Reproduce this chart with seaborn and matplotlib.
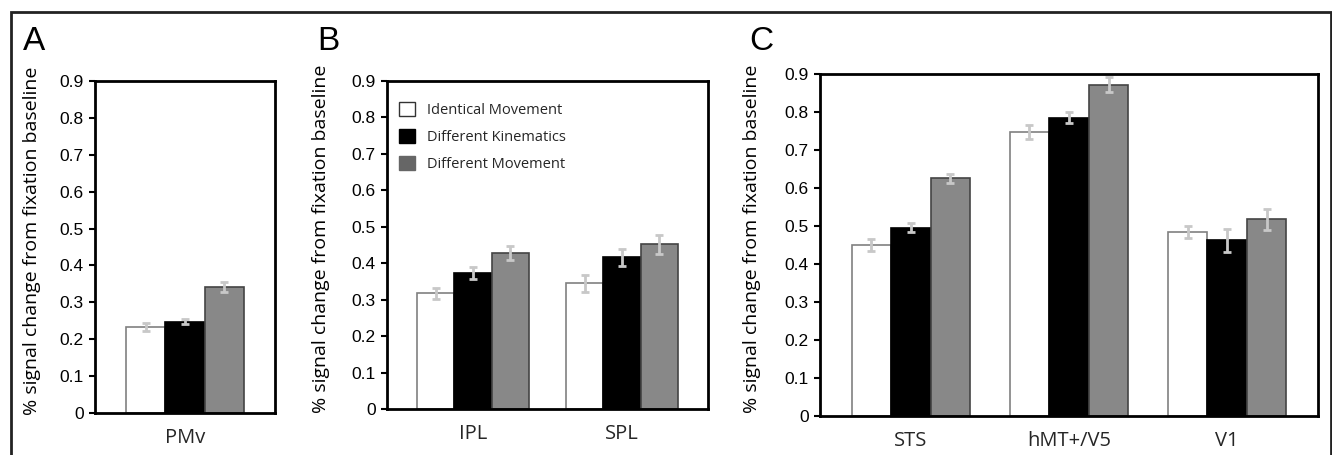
import matplotlib
matplotlib.use("Agg")
import matplotlib.pyplot as plt
import seaborn as sns
import pandas as pd
from matplotlib.patches import Rectangle, Patch

sns.set_theme(style="white")
plt.rcParams['font.family'] = ['Liberation Sans', 'DejaVu Sans']

conditions = ["Identical Movement", "Different Kinematics", "Different Movement"]

regions_a = ["PMv"]
vals_a = {"Identical Movement": [0.233], "Different Kinematics": [0.247], "Different Movement": [0.341]}
errs_a = {"Identical Movement": [0.012], "Different Kinematics": [0.007], "Different Movement": [0.013]}

regions_b = ["IPL", "SPL"]
vals_b = {"Identical Movement": [0.317, 0.345], "Different Kinematics": [0.374, 0.416], "Different Movement": [0.428, 0.452]}
errs_b = {"Identical Movement": [0.016, 0.023], "Different Kinematics": [0.017, 0.023], "Different Movement": [0.019, 0.026]}

regions_c = ["STS", "hMT+/V5", "V1"]
vals_c = {"Identical Movement": [0.450, 0.747, 0.484], "Different Kinematics": [0.495, 0.785, 0.462], "Different Movement": [0.626, 0.872, 0.518]}
errs_c = {"Identical Movement": [0.015, 0.019, 0.016], "Different Kinematics": [0.012, 0.014, 0.031], "Different Movement": [0.012, 0.020, 0.028]}

yticks = [0, 0.1, 0.2, 0.3, 0.4, 0.5, 0.6, 0.7, 0.8, 0.9]
ytick_labels = ["0", "0.1", "0.2", "0.3", "0.4", "0.5", "0.6", "0.7", "0.8", "0.9"]

face_colors = {"Identical Movement": "#ffffff", "Different Kinematics": "#000000", "Different Movement": "#888888"}
edge_colors = {"Identical Movement": "#808080", "Different Kinematics": "#000000", "Different Movement": "#444444"}

ylabel = "% signal change from fixation baseline"
label_font = "Open Sans"

W, H = 1332, 455
fig = plt.figure(figsize=(W / 100, H / 100), dpi=100)


def make_df(regions, vals):
    rows = []
    for c in conditions:
        for r, v in zip(regions, vals[c]):
            rows.append({"region": r, "condition": c, "value": v})
    return pd.DataFrame(rows)


def panel(rect, regions, vals, errs, letter, letter_xy, ylabel_x):
    l, t, r, b = rect
    ax = fig.add_axes([l / W, (H - b) / H, (r - l) / W, (b - t) / H])
    df = make_df(regions, vals)
    sns.barplot(data=df, x="region", y="value", hue="condition", hue_order=conditions,
                order=regions, palette=face_colors, errorbar=None, width=0.75,
                ax=ax, legend=False, saturation=1)
    for cont, c in zip(ax.containers, conditions):
        xs, ys = [], []
        for p in cont.patches:
            p.set_edgecolor(edge_colors[c])
            p.set_linewidth(1.2)
            xs.append(p.get_x() + p.get_width() / 2)
            ys.append(p.get_height())
        ax.errorbar(xs, ys, yerr=errs[c], fmt="none", ecolor="#c8c8c8",
                    elinewidth=2, capsize=3, capthick=2, zorder=5)
    n = len(regions)
    ax.set_xlim(-0.575, n - 1 + 0.575)
    ax.set_ylim(0, 0.9)
    ax.set_yticks(yticks)
    ax.set_yticklabels(ytick_labels)
    ax.set_xlabel("")
    ax.set_ylabel("")
    for s in ax.spines.values():
        s.set_visible(True)
        s.set_color("black")
        s.set_linewidth(2)
    ax.tick_params(axis="y", direction="out", length=4, width=1.5, color="black",
                   labelsize=12.5, pad=4, left=True)
    ax.tick_params(axis="x", length=0, pad=11)
    for lab in ax.get_xticklabels():
        lab.set_fontfamily(label_font)
        lab.set_fontsize(14.5)
    for lab in ax.get_yticklabels():
        lab.set_color("black")
    fig.text(letter_xy[0] / W, (H - letter_xy[1]) / H, letter, fontsize=24,
             ha="left", va="center", color="black")
    fig.text(ylabel_x / W, (H - (t + b) / 2 + 6) / H, ylabel, rotation=90, fontsize=14,
             family=label_font, ha="center", va="center", color="black")
    return ax


ax_a = panel((95, 81, 275, 413), regions_a, vals_a, errs_a, "A", (23, 41), 32)
ax_b = panel((387, 81, 708, 409), regions_b, vals_b, errs_b, "B", (317, 41), 321)
ax_c = panel((820, 74, 1318, 416), regions_c, vals_c, errs_c, "C", (749, 41), 752)

handles = [Patch(facecolor="#ffffff", edgecolor="#333333", linewidth=1),
           Patch(facecolor="#000000", edgecolor="#000000", linewidth=1),
           Patch(facecolor="#666666", edgecolor="#666666", linewidth=1)]
leg = ax_b.legend(handles, conditions, loc="upper left", bbox_to_anchor=(0.02, 0.955),
                  frameon=False, prop={"family": label_font, "size": 10.5},
                  handlelength=1.1, handleheight=1.1, handletextpad=0.8, labelspacing=0.78,
                  borderaxespad=0)

border = Rectangle((11 / W, -0.1), (1331 - 11) / W, (H - 12) / H + 0.1, transform=fig.transFigure,
                   fill=False, edgecolor="#222222", linewidth=2, clip_on=False)
fig.add_artist(border)

fig.savefig("out.png", dpi=100, facecolor="white")
